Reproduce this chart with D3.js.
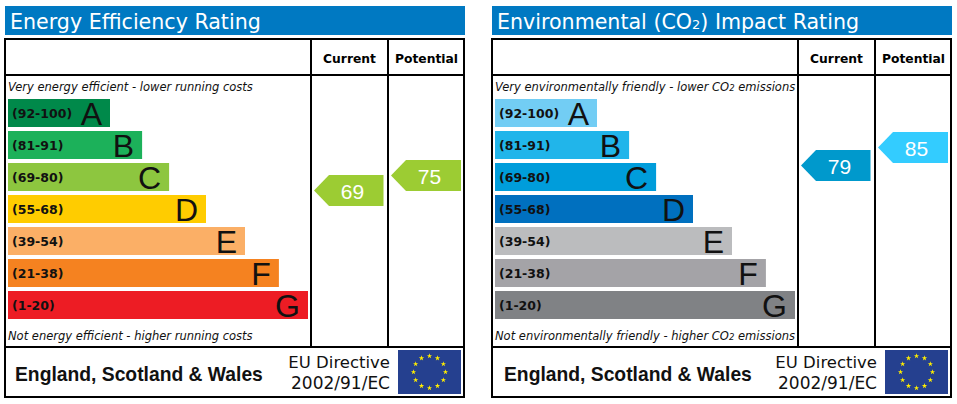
<!DOCTYPE html>
<html>
<head>
<meta charset="utf-8">
<script src="https://d3js.org/d3.v7.min.js"></script>
<style>
  html, body { margin: 0; padding: 0; background: #fff; }
  svg { display: block; }
  text { font-family: "DejaVu Sans", sans-serif; }
</style>
</head>
<body>
<svg width="957" height="404"></svg>
<script>
var bands = ["A", "B", "C", "D", "E", "F", "G"]
var ranges = ["(92-100)", "(81-91)", "(69-80)", "(55-68)", "(39-54)", "(21-38)", "(1-20)"]
// bar length as share of the longest bar
var barLengths = [34, 44.7, 53.7, 66, 79, 90.3, 100]

var energyColors = ["#00894a", "#1cb15a", "#8dc63f", "#ffcc00", "#fbaf66", "#f58220", "#ed1c24"]
var impactColors = ["#72cdf4", "#21b5ea", "#009ddb", "#0070bf", "#bbbcbe", "#a4a3a7", "#808285"]

var energyRatings = [69, 75]
var impactRatings = [79, 85]
var energyArrowColors = ["#9ccc33", "#9ccc33"]
var impactArrowColors = ["#0099cc", "#33ccff"]

var columns = ["Current", "Potential"]

var svg = d3.select("svg")

var x = d3.scaleLinear().domain([0, 100]).range([8, 308])
var y = d3.scaleBand().domain(bands).range([99, 319]).paddingInner(0.125).paddingOuter(0).align(0)
var ratingY = d3.scaleLinear().domain([69, 75, 79, 85]).range([190.5, 175.5, 165.5, 147.5])
var colX = d3.scaleBand().domain(columns).range([311, 465])

var starAngle = d3.scaleLinear().domain([0, 12]).range([0, 2 * Math.PI])
var star = d3.symbol().type(d3.symbolStar).size(9)

function arrowPath(left, right, cy) {
  var p = d3.path()
  p.moveTo(left, cy)
  p.lineTo(left + 15, cy - 15.5)
  p.lineTo(right, cy - 15.5)
  p.lineTo(right, cy + 15.5)
  p.lineTo(left + 15, cy + 15.5)
  p.closePath()
  return p.toString()
}

function drawPanel(dx, titleParts, topParts, bottomParts, colors, ratings, arrowColors) {
  var g = svg.append("g").attr("transform", "translate(" + dx + ",0)")

  // blue title strip
  g.append("rect").attr("x", 5).attr("y", 6).attr("width", 460).attr("height", 29).attr("fill", "#0079c2")
  var title = g.append("text").attr("x", 10).attr("y", 29).attr("fill", "#fff").style("font-size", "20.6px")
  titleParts.forEach(function(t) {
    title.append("tspan").text(t[0]).style("font-size", t[1] ? "13px" : null)
  })

  // frame
  g.append("rect").attr("x", 5).attr("y", 39).attr("width", 459).attr("height", 358)
    .attr("fill", "#fff").attr("stroke", "#000").attr("stroke-width", 2)
  g.append("line").attr("x1", 5).attr("x2", 464).attr("y1", 75).attr("y2", 75).attr("stroke", "#000").attr("stroke-width", 2)
  g.append("line").attr("x1", 5).attr("x2", 464).attr("y1", 347).attr("y2", 347).attr("stroke", "#000").attr("stroke-width", 2)
  g.selectAll(".vline").data([311, 388]).join("line").attr("class", "vline")
    .attr("x1", d => d).attr("x2", d => d).attr("y1", 39).attr("y2", 347)
    .attr("stroke", "#000").attr("stroke-width", 2)

  // column heads
  g.selectAll(".col").data(columns).join("text").attr("class", "col")
    .attr("x", d => colX(d) + colX.bandwidth() / 2).attr("y", 63)
    .attr("text-anchor", "middle").attr("fill", "#000")
    .style("font-size", "12.3px").style("font-weight", "bold")
    .text(d => d)

  // italic notes
  function note(parts, yPos) {
    var t = g.append("text").attr("x", 8).attr("y", yPos).attr("fill", "#111")
      .style("font-size", "11.5px").style("font-style", "italic")
    parts.forEach(function(p) {
      t.append("tspan").text(p[0]).style("font-size", p[1] ? "8.5px" : null)
    })
  }
  note(topParts, 91)
  note(bottomParts, 340)

  // bars
  var rows = g.selectAll(".row").data(bands).join("g").attr("class", "row")
  rows.append("rect")
    .attr("x", x(0))
    .attr("y", d => y(d))
    .attr("width", (d, i) => x(barLengths[i]) - x(0))
    .attr("height", y.bandwidth())
    .attr("fill", (d, i) => colors[i])
  rows.append("text")
    .attr("x", 12).attr("y", d => y(d) + 19)
    .attr("fill", "#111").style("font-size", "12.5px").style("font-weight", "bold")
    .text((d, i) => ranges[i])
  rows.append("text")
    .attr("x", (d, i) => x(barLengths[i]) - 8).attr("y", d => y(d) + 26)
    .attr("text-anchor", "end").attr("fill", "#111")
    .style("font-family", "'Liberation Sans', sans-serif").style("font-size", "32px")
    .text(d => d)

  // rating arrows
  var arrows = g.selectAll(".rating").data(ratings).join("g").attr("class", "rating")
  arrows.append("path")
    .attr("d", (d, i) => arrowPath(colX(columns[i]) + 3, colX(columns[i]) + (i ? 73 : 72.5), ratingY(d)))
    .attr("fill", (d, i) => arrowColors[i])
  arrows.append("text")
    .attr("x", (d, i) => colX(columns[i]) + 41.5).attr("y", d => ratingY(d) + 8)
    .attr("text-anchor", "middle").attr("fill", "#fff")
    .style("font-family", "'Liberation Sans', sans-serif").style("font-size", "21px")
    .text(d => d)

  // footer
  g.append("text").attr("x", 15 + (dx ? 2 : 0)).attr("y", 381).attr("fill", "#111")
    .style("font-family", "'Liberation Sans', sans-serif").style("font-size", "19.3px").style("font-weight", "bold")
    .text("England, Scotland & Wales")
  g.append("text").attr("x", 390).attr("y", 368).attr("text-anchor", "end").attr("fill", "#111")
    .style("font-size", "16.5px").text("EU Directive")
  g.append("text").attr("x", 390).attr("y", 389).attr("text-anchor", "end").attr("fill", "#111")
    .style("font-size", "17px").text("2002/91/EC")

  // flag
  g.append("rect").attr("x", 398).attr("y", 350).attr("width", 63).attr("height", 44).attr("fill", "#25408f")
  g.selectAll(".star").data(d3.range(12)).join("path").attr("class", "star")
    .attr("d", star)
    .attr("fill", "#ffed00")
    .attr("transform", d => "translate(" + (429.5 + 16 * Math.sin(starAngle(d))) + "," + (372 - 16 * Math.cos(starAngle(d))) + ")")
}

drawPanel(0, [["Energy Efficiency Rating"]],
  [["Very energy efficient - lower running costs"]],
  [["Not energy efficient - higher running costs"]],
  energyColors, energyRatings, energyArrowColors)

drawPanel(487, [["Environmental (CO"], ["2", true], [") Impact Rating"]],
  [["Very environmentally friendly - lower CO"], ["2", true], [" emissions"]],
  [["Not environmentally friendly - higher CO"], ["2", true], [" emissions"]],
  impactColors, impactRatings, impactArrowColors)
</script>
</body>
</html>
